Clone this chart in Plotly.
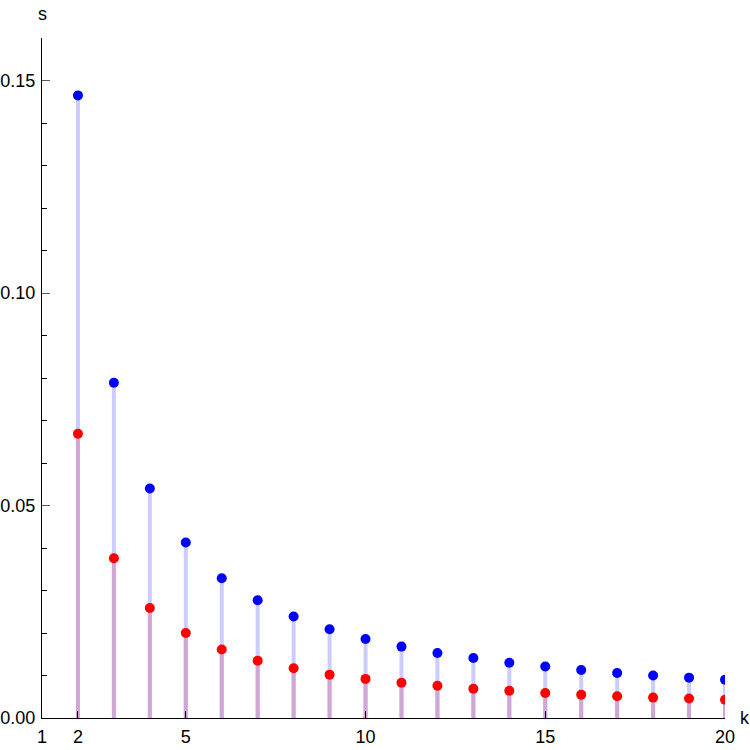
import plotly.graph_objects as go

k = list(range(2, 21))
s_blue = [0.1465, 0.0789, 0.0540, 0.0413, 0.0329, 0.0277, 0.0239, 0.0209, 0.0186,
          0.0168, 0.0153, 0.0141, 0.0130, 0.0121, 0.0113, 0.0106, 0.0100, 0.0095, 0.0090]
s_red = [0.0669, 0.0376, 0.0259, 0.0200, 0.0161, 0.0135, 0.0117, 0.0102, 0.0092,
         0.0083, 0.0076, 0.0069, 0.0064, 0.0059, 0.0055, 0.0051, 0.0048, 0.0046, 0.0043]

x_ticks = [1, 2, 5, 10, 15, 20]


def stems(xs, ys):
    sx, sy = [], []
    for xv, yv in zip(xs, ys):
        sx += [xv, xv, None]
        sy += [0, yv, None]
    return sx, sy


fig = go.Figure()
bx, by = stems(k, s_blue)
rx, ry = stems(k, s_red)
fig.add_trace(go.Scatter(x=bx, y=by, mode="lines", line=dict(color="rgb(204,204,255)", width=4),
                         hoverinfo="skip"))
fig.add_trace(go.Scatter(x=rx, y=ry, mode="lines", line=dict(color="rgb(210,165,215)", width=4),
                         hoverinfo="skip"))
fig.add_trace(go.Scatter(x=k, y=s_blue, mode="markers", marker=dict(color="rgb(0,0,255)", size=10)))
fig.add_trace(go.Scatter(x=k, y=s_red, mode="markers", marker=dict(color="rgb(255,0,0)", size=10)))

font = dict(family="Liberation Sans, Arial, sans-serif", size=18, color="black")
fig.update_layout(
    width=750, height=750, showlegend=False,
    plot_bgcolor="white", paper_bgcolor="white",
    margin=dict(l=42, r=25, t=38, b=32, autoexpand=False),
    font=font,
    xaxis=dict(range=[1, 20], tickmode="array", tickvals=x_ticks, ticktext=[str(v) for v in x_ticks],
               ticks="inside", ticklen=7, tickcolor="black", showline=True, linecolor="black",
               linewidth=1, showgrid=False, zeroline=False, tickfont=font, automargin=False,
               ticklabelstandoff=2),
    yaxis=dict(range=[0, 0.16], tickmode="linear", tick0=0, dtick=0.05, tickformat=".2f",
               ticks="inside", ticklen=8, tickcolor="rgb(90,90,90)", showline=True, linecolor="black",
               linewidth=1, showgrid=False, zeroline=False, tickfont=font, automargin=False,
               ticklabelstandoff=2,
               minor=dict(dtick=0.01, tick0=0, ticks="inside", ticklen=5, tickcolor="black", showgrid=False)),
    annotations=[
        dict(text="s", xref="paper", yref="paper", x=0, y=1, xshift=0, yshift=24,
             showarrow=False, font=font, xanchor="center", yanchor="middle"),
        dict(text="k", xref="paper", yref="paper", x=1, y=0, xshift=20, yshift=0,
             showarrow=False, font=font, xanchor="center", yanchor="middle"),
    ],
)
fig.write_html("out.html")
